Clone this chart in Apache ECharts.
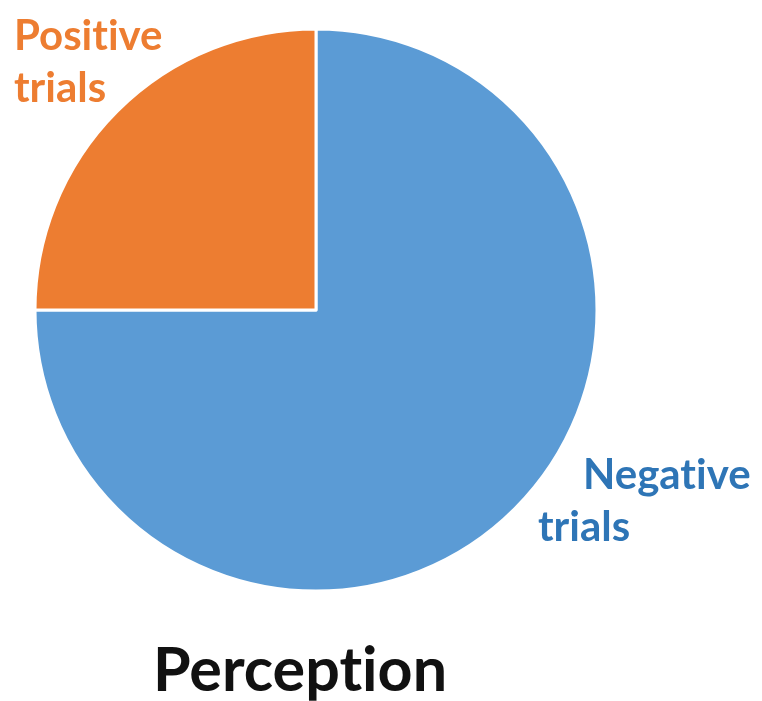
<!DOCTYPE html>
<html>
<head>
<meta charset="utf-8">
<script src="https://cdn.jsdelivr.net/npm/echarts@6/dist/echarts.min.js"></script>
<style>
html,body{margin:0;padding:0;background:#fff;}
#c{width:762px;height:701px;}
</style>
</head>
<body>
<div id="c"></div>
<script>
const categories = ['Negative trials', 'Positive trials'];
const values = [75, 25];
const colors = ['#5B9BD5', '#ED7D31'];
const labelColors = ['#2E75B6', '#ED7D31'];
const chartTitle = 'Perception';

const chart = echarts.init(document.getElementById('c'));
const FONT = 'Lato, Carlito, "Open Sans", sans-serif';

const labelPos = [
  { x: 538, y: 449 },
  { x: 14, y: 10 }
];
const labelIndent = [45, 0];

// split words between "t" and "i" into separate rich fragments so the font's "ti" ligature is not used
function noLig(word, style) {
  return word.split(/(?<=t)(?=i)/).map(s => '{' + style + '|' + s + '}').join('');
}

chart.setOption({
  animation: false,
  backgroundColor: '#fff',
  title: {
    text: noLig(chartTitle, 't'),
    left: 148,
    top: 636,
    textStyle: {
      rich: { t: { fontFamily: FONT, fontWeight: 'bold', fontSize: 61, color: '#111' } }
    }
  },
  series: [{
    type: 'pie',
    center: [316, 310],
    radius: [0, 281],
    startAngle: 90,
    clockwise: true,
    silent: true,
    itemStyle: { borderColor: '#fff', borderWidth: 3 },
    labelLine: { show: false },
    label: {
      show: true,
      position: 'outside',
      overflow: 'none',
      fontFamily: FONT,
      fontWeight: 'bold',
      fontSize: 42,
      lineHeight: 52
    },
    labelLayout: function (p) {
      const i = p.dataIndex;
      return { x: labelPos[i].x, y: labelPos[i].y, align: 'left', verticalAlign: 'top', hideOverlap: false, moveOverlap: false };
    },
    data: categories.map((name, i) => {
      const parts = name.split(' ');
      return {
        name: name,
        value: values[i],
        itemStyle: { color: colors[i] },
        label: {
          overflow: 'none',
          width: 300,
          formatter: '{p|}' + noLig(parts[0], 'a') + '\n' + noLig(parts[1], 'b'),
          rich: {
            p: { width: labelIndent[i], lineHeight: 52, fontSize: 42 },
            a: { fontFamily: FONT, fontWeight: 'bold', fontSize: 42, lineHeight: 52, color: labelColors[i] },
            b: { fontFamily: FONT, fontWeight: 'bold', fontSize: 42, lineHeight: 52, color: labelColors[i] }
          }
        }
      };
    })
  }]
});
</script>
</body>
</html>
